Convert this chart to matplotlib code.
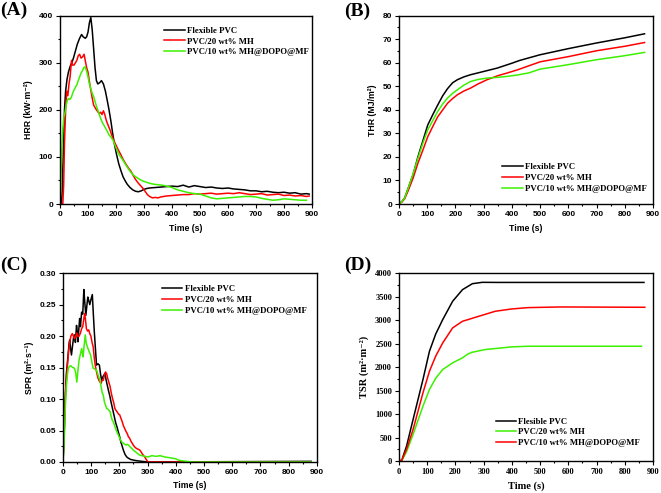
import matplotlib
matplotlib.use('Agg')
import matplotlib.pyplot as plt
from matplotlib.ticker import MultipleLocator, FormatStrFormatter

SANS = ['Liberation Sans', 'DejaVu Sans']
SERIF = ['Liberation Serif', 'DejaVu Serif']

GREEN = '#3cf000'

# ---------------- (A) HRR ----------------
hrr_pvc_t = [0, 5, 8, 12, 16, 20, 25, 30, 36, 42, 48, 55, 62, 70, 77, 83, 90, 95, 100, 105,
             110, 115, 120, 125, 130, 135, 142, 148, 155, 162, 168, 175, 182, 188, 195, 202,
             210, 218, 225, 232, 240, 250, 260, 270, 280, 290, 300, 310, 320, 340, 360, 380,
             400, 420, 440, 460, 480, 500, 520, 540, 560, 580, 600, 620, 640, 660, 680, 700,
             720, 740, 760, 780, 800, 820, 840, 860, 880, 890]
hrr_pvc = [0, 0, 30, 120, 200, 240, 265, 280, 292, 300, 310, 325, 340, 352, 360, 355, 352, 355,
           365, 385, 396, 370, 330, 290, 262, 255, 258, 262, 255, 240, 222, 200, 175, 150, 125,
           105, 85, 70, 58, 50, 42, 35, 30, 27, 26, 28, 31, 33, 34, 35, 36, 37, 38, 37, 40, 36,
           39, 37, 35, 36, 34, 33, 34, 32, 31, 30, 28, 28, 26, 27, 25, 24, 25, 23, 24, 21, 22, 21]

hrr_mh_t = [0, 10, 13, 16, 20, 24, 28, 32, 36, 41, 45, 50, 55, 60, 65, 70, 75, 80, 86, 90, 95,
            100, 105, 110, 115, 120, 125, 130, 135, 140, 145, 150, 155, 160, 165, 170, 178, 185,
            192, 200, 208, 217, 225, 235, 245, 253, 262, 270, 280, 289, 298, 305, 312, 320, 330,
            340, 350, 360, 370, 380, 400, 420, 440, 460, 480, 500, 520, 540, 560, 580, 600, 620,
            640, 660, 680, 700, 720, 740, 760, 780, 800, 820, 840, 860, 880, 890]
hrr_mh = [0, 0, 40, 130, 200, 240, 230, 255, 270, 305, 295, 295, 300, 305, 315, 318, 310, 312,
          318, 305, 290, 280, 260, 242, 225, 210, 205, 200, 196, 192, 195, 190, 198, 190, 178,
          170, 158, 146, 135, 125, 115, 105, 95, 85, 76, 70, 60, 52, 44, 38, 32, 26, 20, 16, 13,
          14, 13, 15, 16, 17, 18, 19, 20, 20, 22, 21, 22, 23, 21, 22, 23, 22, 24, 22, 20, 21, 22,
          19, 20, 21, 18, 19, 17, 18, 16, 17]

hrr_mf_t = [0, 3, 6, 10, 14, 18, 22, 26, 30, 35, 40, 45, 50, 55, 60, 65, 70, 75, 80, 85, 90, 95,
            100, 105, 110, 115, 120, 125, 130, 137, 145, 152, 160, 168, 175, 182, 190, 198, 205,
            212, 220, 228, 236, 245, 255, 265, 275, 285, 295, 305, 320, 335, 350, 365, 380, 400,
            420, 440, 460, 480, 500, 520, 540, 560, 580, 600, 620, 640, 660, 680, 700, 720, 740,
            760, 780, 800, 820, 840, 860, 880]
hrr_mf = [0, 40, 110, 160, 185, 195, 210, 220, 224, 222, 226, 235, 242, 248, 253, 262, 270, 278,
          283, 290, 291, 282, 270, 255, 245, 235, 228, 218, 208, 196, 182, 172, 164, 155, 147,
          142, 135, 122, 112, 104, 97, 90, 82, 74, 66, 60, 56, 52, 49, 47, 44, 42, 41, 40, 38,
          35, 30, 27, 24, 22, 21, 17, 13, 11, 12, 13, 14, 15, 16, 16, 15, 12, 10, 8, 9, 11, 10,
          9, 8, 8]

# ---------------- (B) THR ----------------
thr_pvc_t = [0, 10, 20, 32, 50, 67, 85, 102, 120, 137, 155, 172, 190, 207, 230, 253, 280, 300,
             347, 400, 428, 500, 600, 700, 800, 870]
thr_pvc = [0, 1, 2.5, 6.5, 12.5, 20, 27, 33.6, 38, 42, 46, 49, 51.5, 52.8, 54, 54.9, 55.7, 56.3,
           57.7, 59.8, 61, 63.4, 66, 68.4, 70.6, 72.3]
thr_mh_t = [0, 10, 20, 32, 50, 67, 85, 102, 120, 137, 155, 172, 190, 207, 230, 253, 280, 312,
            350, 382, 420, 500, 600, 700, 800, 870]
thr_mh = [0, 0.8, 2.2, 5.5, 11, 17.3, 23, 28.6, 33, 37, 40, 42.8, 44.8, 46.4, 48, 49.2, 51, 52.8,
          54.5, 55.6, 57, 60.4, 62.6, 65.1, 67, 68.6]
thr_mf_t = [0, 10, 20, 32, 50, 67, 85, 102, 120, 137, 155, 172, 190, 207, 230, 253, 280, 312,
            350, 382, 420, 460, 500, 600, 700, 800, 870]
thr_mf = [0, 1, 2.5, 6.5, 12.8, 19.4, 26, 31.5, 35.5, 39.3, 42.5, 45, 47, 48.5, 50.5, 52, 52.9,
          53.5, 53.8, 54.2, 54.8, 55.7, 57.3, 59.2, 61.3, 63, 64.4]

# ---------------- (C) SPR ----------------
spr_pvc_t = [0, 4, 8, 12, 16, 19, 22, 24, 27, 30, 34, 38, 41, 44, 48, 51, 53, 56, 59, 62, 66, 70,
             74, 77, 81, 85, 88, 91, 95, 99, 104, 107, 111, 115, 119, 124, 129, 133, 137, 141,
             145, 149, 153, 157, 161, 166, 170, 174, 178, 183, 187, 192, 196, 201, 205, 210, 214,
             220, 226, 232, 240, 250, 262, 280, 300, 880]
spr_pvc = [0, 0.04, 0.10, 0.14, 0.16, 0.175, 0.19, 0.194, 0.18, 0.17, 0.185, 0.20, 0.202, 0.19,
           0.217, 0.205, 0.191, 0.21, 0.228, 0.215, 0.238, 0.235, 0.274, 0.255, 0.233, 0.25,
           0.262, 0.257, 0.25, 0.258, 0.266, 0.24, 0.207, 0.18, 0.154, 0.156, 0.154, 0.14, 0.13,
           0.135, 0.138, 0.141, 0.13, 0.122, 0.114, 0.105, 0.096, 0.088, 0.08, 0.07, 0.062, 0.055,
           0.048, 0.04, 0.032, 0.025, 0.019, 0.012, 0.008, 0.006, 0.004, 0.003, 0.002, 0.001, 0.0,
           0.001]
spr_mh_t = [0, 5, 9, 13, 17, 21, 24, 28, 33, 37, 41, 45, 49, 53, 57, 62, 66, 70, 74, 77, 80, 83,
            87, 91, 95, 99, 103, 107, 111, 115, 119, 123, 127, 131, 135, 139, 143, 147, 151, 155,
            159, 163, 167, 171, 175, 180, 184, 188, 193, 197, 201, 205, 210, 214, 219, 224, 228,
            232, 236, 241, 245, 249, 254, 259, 263, 268, 272, 277, 281, 286, 290, 295, 301, 880]
spr_mh = [0, 0.06, 0.11, 0.138, 0.16, 0.18, 0.19, 0.2, 0.204, 0.2, 0.196, 0.2, 0.205, 0.199, 0.2,
          0.205, 0.212, 0.215, 0.228, 0.236, 0.225, 0.212, 0.208, 0.21, 0.204, 0.2, 0.19, 0.183,
          0.165, 0.152, 0.143, 0.135, 0.13, 0.127, 0.125, 0.13, 0.13, 0.138, 0.143, 0.14, 0.132,
          0.126, 0.12, 0.11, 0.102, 0.094, 0.085, 0.082, 0.079, 0.076, 0.075, 0.07, 0.064, 0.058,
          0.053, 0.048, 0.045, 0.04, 0.038, 0.033, 0.03, 0.027, 0.024, 0.022, 0.021, 0.02, 0.019,
          0.016, 0.013, 0.01, 0.008, 0.004, 0.0, 0.0]
spr_mf_t = [0, 4, 8, 12, 16, 19, 23, 27, 30, 34, 38, 41, 45, 49, 53, 57, 61, 66, 68, 71, 75, 79,
            82, 86, 89, 93, 98, 102, 107, 111, 115, 119, 123, 127, 131, 135, 139, 143, 147, 151,
            155, 159, 163, 167, 171, 175, 178, 183, 187, 192, 196, 201, 205, 210, 214, 219, 224,
            228, 232, 238, 243, 249, 255, 260, 266, 272, 280, 290, 301, 315, 330, 345, 360, 375,
            390, 400, 410, 420, 440, 460, 880]
spr_mf = [0, 0.03, 0.085, 0.12, 0.14, 0.149, 0.152, 0.153, 0.152, 0.15, 0.15, 0.148, 0.142, 0.127,
          0.145, 0.162, 0.17, 0.18, 0.175, 0.167, 0.185, 0.202, 0.19, 0.183, 0.18, 0.175, 0.17,
          0.16, 0.149, 0.148, 0.147, 0.146, 0.14, 0.135, 0.13, 0.12, 0.11, 0.106, 0.095, 0.09,
          0.085, 0.084, 0.082, 0.08, 0.072, 0.066, 0.064, 0.058, 0.052, 0.047, 0.043, 0.038, 0.034,
          0.031, 0.03, 0.028, 0.027, 0.028, 0.027, 0.024, 0.022, 0.019, 0.017, 0.015, 0.013, 0.011,
          0.01, 0.009, 0.008, 0.01, 0.009, 0.01, 0.008, 0.007, 0.006, 0.005, 0.003, 0.002, 0.001,
          0.0, 0.0]

# ---------------- (D) TSR ----------------
tsr_pvc_t = [0, 10, 27, 50, 85, 108, 130, 155, 190, 225, 260, 295, 350, 868]
tsr_pvc = [0, 20, 319, 885, 1735, 2336, 2700, 3009, 3398, 3646, 3773, 3802, 3800, 3800]
tsr_mh_t = [0, 10, 27, 50, 85, 108, 130, 155, 190, 210, 225, 245, 260, 306, 399, 457, 859]
tsr_mh = [0, 10, 200, 566, 1168, 1522, 1760, 1947, 2088, 2150, 2195, 2280, 2315, 2372, 2428,
          2442, 2442]
tsr_mf_t = [0, 10, 27, 50, 85, 108, 130, 155, 190, 225, 283, 341, 399, 457, 574, 871]
tsr_mf = [0, 15, 250, 672, 1451, 1911, 2230, 2513, 2832, 2973, 3080, 3186, 3235, 3264, 3278, 3271]

labels_abc = ['Flexible PVC', 'PVC/20 wt% MH', 'PVC/10 wt% MH@DOPO@MF']
labels_d = ['Flesible PVC', 'PVC/20 wt% MH', 'PVC/10 wt% MH@DOPO@MF']


def style_axes(ax, ymajor, yminor, ylim, tickfont, yfmt=None):
  ax.set_xlim(0, 900)
  ax.set_ylim(*ylim)
  ax.xaxis.set_major_locator(MultipleLocator(100))
  ax.xaxis.set_minor_locator(MultipleLocator(50))
  ax.yaxis.set_major_locator(MultipleLocator(ymajor))
  ax.yaxis.set_minor_locator(MultipleLocator(yminor))
  if yfmt:
    ax.yaxis.set_major_formatter(FormatStrFormatter(yfmt))
  ax.tick_params(which='major', direction='out', length=3, width=0.8, pad=2)
  ax.tick_params(which='minor', direction='out', length=1.6, width=0.8)
  for sp in ax.spines.values():
    sp.set_linewidth(1.0)
  for lab in ax.get_xticklabels() + ax.get_yticklabels():
    lab.set_family(tickfont)
    lab.set_fontweight('bold')
    lab.set_fontsize(6)


fig = plt.figure(figsize=(6.61, 4.93), dpi=100)
axA = fig.add_axes([0.0908, 0.5862, 0.3812, 0.382])
axB = fig.add_axes([0.6036, 0.5862, 0.3843, 0.382])
axC = fig.add_axes([0.0953, 0.0629, 0.384, 0.383])
axD = fig.add_axes([0.6036, 0.0649, 0.3843, 0.3813])

lw = 1.1
for ax, data in [(axA, [(hrr_pvc_t, hrr_pvc), (hrr_mh_t, hrr_mh), (hrr_mf_t, hrr_mf)]),
                 (axB, [(thr_pvc_t, thr_pvc), (thr_mh_t, thr_mh), (thr_mf_t, thr_mf)]),
                 (axC, [(spr_pvc_t, spr_pvc), (spr_mh_t, spr_mh), (spr_mf_t, spr_mf)])]:
  for (t, v), c, lab in zip(data, ['black', 'red', GREEN], labels_abc):
    ax.plot(t, v, color=c, lw=lw, label=lab)

axD.plot(tsr_pvc_t, tsr_pvc, color='black', lw=lw, label=labels_d[0])
axD.plot(tsr_mh_t, tsr_mh, color=GREEN, lw=lw, label=labels_d[1])
axD.plot(tsr_mf_t, tsr_mf, color='red', lw=lw, label=labels_d[2])

style_axes(axA, 100, 50, (0, 400), SANS)
style_axes(axB, 10, 5, (0, 80), SANS)
style_axes(axC, 0.05, 0.025, (0, 0.30), SANS, '%.2f')
style_axes(axD, 500, 250, (0, 4000), SERIF)

lab_kw = dict(family=SANS, fontweight='bold', fontsize=6.3)
axA.set_ylabel('HRR (kW·m⁻²)', labelpad=4, **lab_kw)
axB.set_ylabel('THR (MJ/m²)', labelpad=4, **lab_kw)
axC.set_ylabel('SPR (m²·s⁻¹)', labelpad=4, **lab_kw)
for ax in (axA, axB, axC):
  ax.set_xlabel('Time (s)', labelpad=4, **lab_kw)
serif_kw = dict(family=SERIF, fontweight='bold', fontsize=7.5)
axD.set_ylabel('TSR (m²·m⁻²)', labelpad=4, **serif_kw)
axD.set_xlabel('Time (s)', labelpad=4, **serif_kw)

leg_kw = dict(loc='upper left', frameon=False, borderpad=0, handlelength=2.3,
              handletextpad=0.25, labelspacing=0.3,
              prop=dict(family=SERIF, weight='bold', size=6.3))
axA.legend(bbox_to_anchor=(0.397, 0.965), **leg_kw)
axB.legend(bbox_to_anchor=(0.39, 0.24), **leg_kw)
axC.legend(bbox_to_anchor=(0.374, 0.96), **leg_kw)
axD.legend(bbox_to_anchor=(0.364, 0.255), **leg_kw)

pk = dict(family=SERIF, fontweight='bold', fontsize=14, va='top', ha='left')
fig.text(0.0, 1 - 2 / 493, '(A)', **pk)
fig.text(344 / 661, 1 - 3 / 493, '(B)', **pk)
fig.text(0.0, 1 - 257 / 493, '(C)', **pk)
fig.text(344 / 661, 1 - 257 / 493, '(D)', **pk)

fig.savefig('out.png', dpi=100)
